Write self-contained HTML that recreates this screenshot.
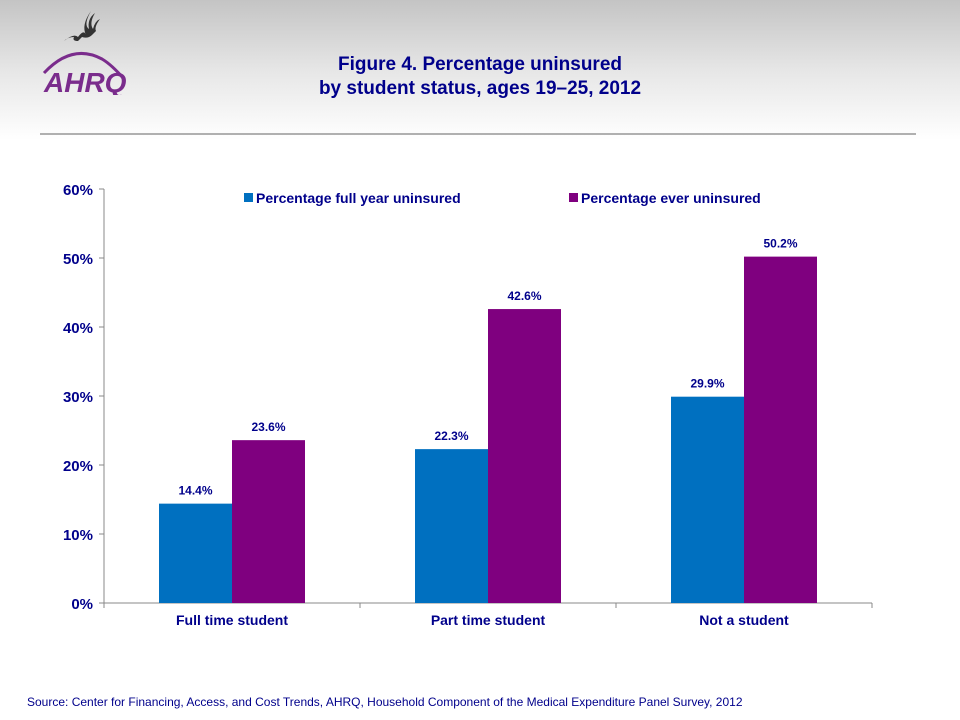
<!DOCTYPE html>
<html><head><meta charset="utf-8"><style>
body{margin:0;width:960px;height:720px;overflow:hidden;font-family:"Liberation Sans",Arial,sans-serif;background:linear-gradient(#c4c4c4 0px,#e6e6e6 70px,#fff 140px,#fff 720px);position:relative}
.t{position:absolute;color:#00008B;font-weight:bold}
</style></head><body>
<div style="position:absolute;left:36px;top:5px;width:105px;height:90px">
<svg width="105" height="90">
<path d="M28 36 q10-8 14-4 q6-8 8-2 q-5-10 5-24 q-8 14-2 18 q-2-10 6-16 q-6 10-2 16 q2-8 7-10 q-6 8-4 12 l-4 4 q-4 4-10 2 l-4 4 q-6 0-4-4 q-6 0-10 4z" fill="#333"/>
<path d="M8 68 q28-30 58-14 q10 6 22 20" stroke="#7a2c8c" stroke-width="3" fill="none"/>
<text x="8" y="87" font-family="Liberation Sans" font-weight="bold" font-style="italic" font-size="28" fill="#7a2c8c">AHRQ</text>
</svg></div>
<div class="t" style="left:280px;top:53px;width:400px;text-align:center;font-size:19px;line-height:24px">Figure 4. Percentage uninsured<br>by student status, ages 19–25, 2012</div>
<div style="position:absolute;left:40px;top:133px;width:876px;height:2px;background:#b0b0b0"></div>
<svg id="c" width="960" height="720" style="position:absolute;left:0;top:0"></svg>
<div style="position:absolute;left:27px;top:695px;font-size:12px;color:#00008B">Source: Center for Financing, Access, and Cost Trends, AHRQ, Household Component of the Medical Expenditure Panel Survey,  2012</div>
<script>
const categories=["Full time student","Part time student","Not a student"];
const fullYear=[14.4,22.3,29.9];
const ever=[23.6,42.6,50.2];
const ticks=[0,10,20,30,40,50,60];
const seriesNames=["Percentage full year uninsured","Percentage ever uninsured"];
const colors=["#0070C0","#7F007F"];
const svg=document.getElementById('c');const NS="http://www.w3.org/2000/svg";
const x0=104,x1=872,y0=603,y1=189;
const y=v=>y0-(v/60)*(y0-y1);
const gw=(x1-x0)/categories.length,bw=73;
function el(t,a,txt){const e=document.createElementNS(NS,t);for(const k in a)e.setAttribute(k,a[k]);if(txt!=null)e.textContent=txt;svg.appendChild(e);return e;}
let e=el('line',{x1:x0,y1:y1,x2:x0,y2:y0,stroke:'#888'});

e=el('line',{x1:x0,y1:y0,x2:x1,y2:y0,stroke:'#888'});

ticks.forEach(t=>{
 let l=el('line',{x1:x0-5,x2:x0,y1:y(t),y2:y(t),stroke:'#888'});
 
 let tx=el('text',{x:x0-11,y:y(t)+6,'text-anchor':'end','font-size':15,'font-weight':'bold',fill:'#00008B'},t+'%');
 
});
for(let i=0;i<=categories.length;i++){let l=el('line',{x1:x0+gw*i,x2:x0+gw*i,y1:y0,y2:y0+5,stroke:'#888'});
 }
[fullYear,ever].forEach((s,si)=>{
 s.forEach((v,i)=>{
  const cx=x0+gw*i+gw/2;const bx=si===0?cx-bw:cx;
  let r=el('rect',{x:bx,y:y(v),width:bw,height:y0-y(v),fill:colors[si]});
  
  let t=el('text',{x:bx+bw/2,y:y(v)-9,'text-anchor':'middle','font-size':12,'font-weight':'bold',fill:'#00008B'},v.toFixed(1)+'%');
  
 });
});
categories.forEach((c,i)=>{let t=el('text',{x:x0+gw*i+gw/2,y:625,'text-anchor':'middle','font-size':14,'font-weight':'bold',fill:'#00008B'},c);
 });
const lx=[244,569];
seriesNames.forEach((n,i)=>{
 let r=el('rect',{x:lx[i],y:193,width:9,height:9,fill:colors[i]});
 
 let t=el('text',{x:lx[i]+12,y:203,'font-size':14,'font-weight':'bold',fill:'#00008B'},n);
 
});
</script>
</body></html>
